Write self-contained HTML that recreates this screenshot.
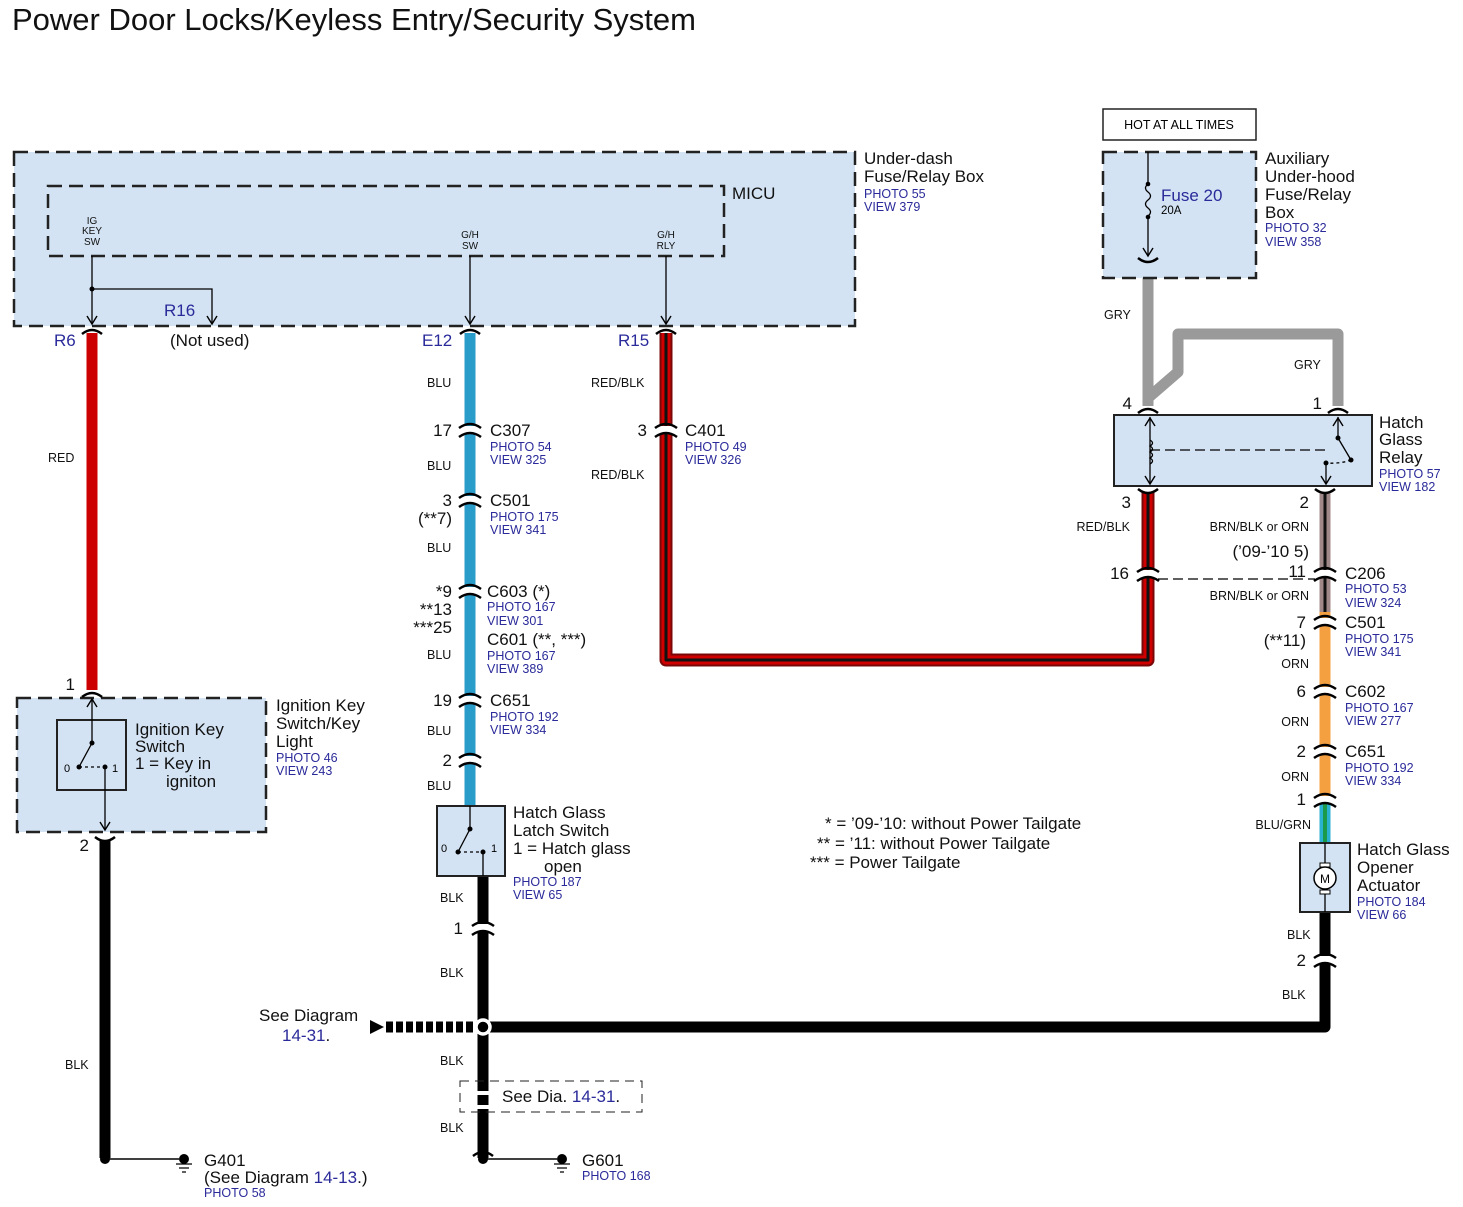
<!DOCTYPE html>
<html><head><meta charset="utf-8"><style>
html,body{margin:0;padding:0;background:#fff}
svg{display:block}
text{font-family:"Liberation Sans",Arial,sans-serif}
.n{font-size:17px;fill:#111}
.p{font-size:12.5px;fill:#2a2a9a}
.w{font-size:12.5px;fill:#111}
.s{font-size:10px;fill:#111}
.b{font-size:17px;fill:#2a2a9a}
</style></head><body>
<svg width="1463" height="1207" viewBox="0 0 1463 1207" xmlns="http://www.w3.org/2000/svg">
<defs>
<g id="k"><rect x="-9" y="-4" width="18" height="8" fill="#fff"/><path d="M-11,-2 Q0,-10 11,-2 M-11,7 Q0,-1 11,7" stroke="#000" stroke-width="2.5" fill="none"/></g>
<path id="t" d="M-10,4 Q0,-4 10,4" stroke="#000" stroke-width="2.5" fill="none"/>
<path id="u" d="M-10,-4 Q0,4 10,-4" stroke="#000" stroke-width="2.5" fill="none"/>
<path id="ad" d="M-5,-8 L0,0 L5,-8" fill="none" stroke="#000" stroke-width="1.4"/>
<path id="au" d="M-5,8 L0,0 L5,8" fill="none" stroke="#000" stroke-width="1.4"/>
</defs>

<text x="12" y="30" style="font-size:31px" fill="#111">Power Door Locks/Keyless Entry/Security System</text>

<!-- Under-dash box -->
<rect x="14" y="152" width="841" height="174" fill="#d3e3f3" stroke="#222" stroke-width="2.5" stroke-dasharray="14,7"/>
<rect x="48" y="186" width="676" height="70" fill="none" stroke="#222" stroke-width="2.5" stroke-dasharray="14,7"/>
<text x="732" y="199" class="n">MICU</text>
<text x="864" y="164" class="n">Under-dash</text>
<text x="864" y="182" class="n">Fuse/Relay Box</text>
<text x="864" y="198" class="p">PHOTO 55</text>
<text x="864" y="211" class="p">VIEW 379</text>
<text x="92" y="224" class="s" text-anchor="middle">IG</text>
<text x="92" y="234" class="s" text-anchor="middle">KEY</text>
<text x="92" y="245" class="s" text-anchor="middle">SW</text>
<text x="470" y="238" class="s" text-anchor="middle">G/H</text>
<text x="470" y="249" class="s" text-anchor="middle">SW</text>
<text x="666" y="238" class="s" text-anchor="middle">G/H</text>
<text x="666" y="249" class="s" text-anchor="middle">RLY</text>
<g stroke="#000" stroke-width="1.3" fill="none">
<path d="M92,256 V324"/>
<path d="M92,289 H212 V324"/>
<path d="M470,256 V324"/>
<path d="M666,256 V324"/>
</g>
<use href="#ad" x="92" y="324"/><use href="#ad" x="212" y="324"/><use href="#ad" x="470" y="324"/><use href="#ad" x="666" y="324"/>
<circle cx="92" cy="289" r="2.5"/>
<text x="164" y="316" class="b">R16</text>
<text x="54" y="346" class="b">R6</text>
<text x="170" y="346" class="n">(Not used)</text>
<text x="422" y="346" class="b">E12</text>
<text x="618" y="346" class="b">R15</text>

<!-- wires -->
<path d="M92,333 V690" stroke="#cc0000" stroke-width="11" fill="none"/>
<path d="M470,333 V806" stroke="#2a9cc9" stroke-width="11" fill="none"/>
<path d="M666,333 V660 H1148 V492" stroke="#7a0808" stroke-width="13" fill="none" stroke-linejoin="round"/>
<path d="M666,333 V660 H1148 V492" stroke="#d00000" stroke-width="9" fill="none" stroke-linejoin="round"/>
<path d="M666,333 V660 H1148 V492" stroke="#111" stroke-width="3" fill="none" stroke-linejoin="round"/>
<path d="M1148,262 V406" stroke="#9a9a9a" stroke-width="11" fill="none"/>
<path d="M1148,398 L1178,372 V334 H1338 V406" stroke="#9a9a9a" stroke-width="11" fill="none" stroke-linejoin="round"/>
<path d="M1325,492 V612" stroke="#a08888" stroke-width="11" fill="none"/>
<path d="M1325,492 V612" stroke="#111" stroke-width="3" fill="none"/>
<path d="M1325,612 V800" stroke="#f5a040" stroke-width="11" fill="none"/>
<path d="M1325,800 V843" stroke="#2ab0d0" stroke-width="11" fill="none"/>
<path d="M1325,800 V843" stroke="#1a9a4a" stroke-width="4" fill="none"/>
<path d="M105,840 V1158" stroke="#000" stroke-width="11" fill="none"/>
<path d="M483,876 V1158" stroke="#000" stroke-width="11" fill="none"/>
<path d="M1325,912 V1027 H483" stroke="#000" stroke-width="11" fill="none" stroke-linejoin="round"/>
<path d="M386,1027 H478" stroke="#000" stroke-width="11" stroke-dasharray="7,3" fill="none"/>
<path d="M370,1020 L384,1027 L370,1034 Z" fill="#000"/>
<circle cx="483" cy="1027" r="7" fill="#000" stroke="#fff" stroke-width="3.5"/>

<!-- top caps -->
<use href="#t" x="92" y="330"/><use href="#t" x="470" y="330"/><use href="#t" x="666" y="330"/>

<!-- wire labels left -->
<text x="48" y="462" class="w">RED</text>
<text x="427" y="387" class="w">BLU</text>
<text x="591" y="387" class="w">RED/BLK</text>
<text x="591" y="479" class="w">RED/BLK</text>
<text x="427" y="470" class="w">BLU</text>
<text x="427" y="552" class="w">BLU</text>
<text x="427" y="659" class="w">BLU</text>
<text x="427" y="735" class="w">BLU</text>
<text x="427" y="790" class="w">BLU</text>

<!-- E12 connectors -->
<use href="#k" x="470" y="430"/>
<text x="452" y="436" class="n" text-anchor="end">17</text>
<text x="490" y="436" class="n">C307</text>
<text x="490" y="451" class="p">PHOTO 54</text>
<text x="490" y="464" class="p">VIEW 325</text>
<use href="#k" x="470" y="500"/>
<text x="452" y="506" class="n" text-anchor="end">3</text>
<text x="452" y="524" class="n" text-anchor="end">(**7)</text>
<text x="490" y="506" class="n">C501</text>
<text x="490" y="521" class="p">PHOTO 175</text>
<text x="490" y="534" class="p">VIEW 341</text>
<use href="#k" x="470" y="591"/>
<text x="452" y="597" class="n" text-anchor="end">*9</text>
<text x="452" y="615" class="n" text-anchor="end">**13</text>
<text x="452" y="633" class="n" text-anchor="end">***25</text>
<text x="487" y="597" class="n">C603 (*)</text>
<text x="487" y="611" class="p">PHOTO 167</text>
<text x="487" y="625" class="p">VIEW 301</text>
<text x="487" y="645" class="n">C601 (**, ***)</text>
<text x="487" y="660" class="p">PHOTO 167</text>
<text x="487" y="673" class="p">VIEW 389</text>
<use href="#k" x="470" y="700"/>
<text x="452" y="706" class="n" text-anchor="end">19</text>
<text x="490" y="706" class="n">C651</text>
<text x="490" y="721" class="p">PHOTO 192</text>
<text x="490" y="734" class="p">VIEW 334</text>
<use href="#k" x="470" y="760"/>
<text x="452" y="766" class="n" text-anchor="end">2</text>

<use href="#k" x="666" y="430"/>
<text x="647" y="436" class="n" text-anchor="end">3</text>
<text x="685" y="436" class="n">C401</text>
<text x="685" y="451" class="p">PHOTO 49</text>
<text x="685" y="464" class="p">VIEW 326</text>

<!-- Ignition key switch -->
<rect x="17" y="698" width="249" height="134" fill="#d3e3f3" stroke="#222" stroke-width="2.5" stroke-dasharray="14,7"/>
<rect x="57" y="720" width="69" height="70" fill="none" stroke="#222" stroke-width="2"/>
<use href="#t" x="92" y="693"/>
<text x="75" y="690" class="n" text-anchor="end">1</text>
<g stroke="#000" stroke-width="1.3" fill="none">
<path d="M92,743 V699"/>
<path d="M92,743 L79,767"/>
<path d="M79,767 H104" stroke-dasharray="3,3"/>
<path d="M105,767 V830"/>
</g>
<use href="#au" x="92" y="699"/><use href="#ad" x="105" y="830"/>
<circle cx="92" cy="743" r="2.5"/><circle cx="79" cy="767" r="2.5"/><circle cx="105" cy="767" r="2.5"/>
<text x="64" y="772" style="font-size:11px">0</text>
<text x="112" y="772" style="font-size:11px">1</text>
<text x="135" y="735" class="n">Ignition Key</text>
<text x="135" y="752" class="n">Switch</text>
<text x="135" y="769" class="n">1 = Key in</text>
<text x="166" y="787" class="n">igniton</text>
<text x="276" y="711" class="n">Ignition Key</text>
<text x="276" y="729" class="n">Switch/Key</text>
<text x="276" y="747" class="n">Light</text>
<text x="276" y="762" class="p">PHOTO 46</text>
<text x="276" y="775" class="p">VIEW 243</text>
<use href="#u" x="105" y="841"/>
<text x="89" y="851" class="n" text-anchor="end">2</text>
<text x="65" y="1069" class="w">BLK</text>

<!-- Hatch glass latch switch -->
<rect x="437" y="806" width="68" height="70" fill="#d3e3f3" stroke="#222" stroke-width="2"/>
<g stroke="#000" stroke-width="1.3" fill="none">
<path d="M470,806 V829 L458,852"/>
<path d="M458,852 H482" stroke-dasharray="3,3"/>
<path d="M483,852 V876"/>
</g>
<circle cx="470" cy="829" r="2.5"/><circle cx="458" cy="852" r="2.5"/><circle cx="483" cy="852" r="2.5"/>
<text x="441" y="852" style="font-size:11px">0</text>
<text x="491" y="852" style="font-size:11px">1</text>
<text x="513" y="818" class="n">Hatch Glass</text>
<text x="513" y="836" class="n">Latch Switch</text>
<text x="513" y="854" class="n">1 = Hatch glass</text>
<text x="544" y="872" class="n">open</text>
<text x="513" y="886" class="p">PHOTO 187</text>
<text x="513" y="899" class="p">VIEW 65</text>
<text x="440" y="902" class="w">BLK</text>
<use href="#k" x="483" y="928"/>
<text x="463" y="934" class="n" text-anchor="end">1</text>
<text x="440" y="977" class="w">BLK</text>
<text x="440" y="1065" class="w">BLK</text>
<text x="440" y="1132" class="w">BLK</text>
<rect x="460" y="1081" width="182" height="31" fill="none" stroke="#222" stroke-width="1" stroke-dasharray="9,6"/>
<rect x="476" y="1091" width="14" height="4" fill="#fff"/>
<rect x="476" y="1105" width="14" height="4" fill="#fff"/>
<text x="502" y="1102" class="n">See Dia.<tspan fill="#2a2a9a"> 14-31</tspan>.</text>
<text x="259" y="1021" class="n">See Diagram</text>
<text x="282" y="1041" class="n"><tspan fill="#2a2a9a">14-31</tspan>.</text>

<!-- grounds -->
<use href="#t" x="483" y="1152"/>
<circle cx="483" cy="1159" r="5"/>
<path d="M483,1159 H557" stroke="#000" stroke-width="1.5"/>
<circle cx="562" cy="1159" r="5"/>
<path d="M554,1164 H570 M557,1168 H567 M560,1172 H564" stroke="#000" stroke-width="1.3"/>
<text x="582" y="1166" class="n">G601</text>
<text x="582" y="1180" class="p">PHOTO 168</text>
<circle cx="105" cy="1159" r="5"/>
<path d="M105,1159 H179" stroke="#000" stroke-width="1.5"/>
<circle cx="184" cy="1159" r="5"/>
<path d="M176,1164 H192 M179,1168 H189 M182,1172 H186" stroke="#000" stroke-width="1.3"/>
<text x="204" y="1166" class="n">G401</text>
<text x="204" y="1183" class="n">(See Diagram <tspan fill="#2a2a9a">14-13</tspan>.)</text>
<text x="204" y="1197" class="p">PHOTO 58</text>

<!-- notes -->
<text x="825" y="829" class="n">* = ’09-’10: without Power Tailgate</text>
<text x="817" y="849" class="n">** = ’11: without Power Tailgate</text>
<text x="810" y="868" class="n">*** = Power Tailgate</text>

<!-- right side -->
<rect x="1103" y="109" width="153" height="31" fill="#fff" stroke="#222" stroke-width="1.5"/>
<text x="1179" y="129" text-anchor="middle" style="font-size:12.5px">HOT AT ALL TIMES</text>
<rect x="1103" y="152" width="153" height="126" fill="#d3e3f3" stroke="#222" stroke-width="2.5" stroke-dasharray="14,7"/>
<g stroke="#000" stroke-width="1.3" fill="none">
<path d="M1148,152 V184"/>
<path d="M1148,184 q-5,4 0,8 q5,4 0,8 q-5,4 0,8 q5,4 0,8"/>
<path d="M1148,217 V256"/>
</g>
<use href="#ad" x="1148" y="256"/>
<circle cx="1148" cy="184" r="2.3"/><circle cx="1148" cy="217" r="2.3"/>
<use href="#u" x="1148" y="262"/>
<text x="1161" y="201" class="b">Fuse 20</text>
<text x="1161" y="214" style="font-size:11.5px">20A</text>
<text x="1265" y="164" class="n">Auxiliary</text>
<text x="1265" y="182" class="n">Under-hood</text>
<text x="1265" y="200" class="n">Fuse/Relay</text>
<text x="1265" y="218" class="n">Box</text>
<text x="1265" y="232" class="p">PHOTO 32</text>
<text x="1265" y="246" class="p">VIEW 358</text>
<text x="1104" y="319" class="w">GRY</text>
<text x="1294" y="369" class="w">GRY</text>
<use href="#t" x="1148" y="409"/><use href="#t" x="1338" y="409"/>
<text x="1132" y="409" class="n" text-anchor="end">4</text>
<text x="1322" y="409" class="n" text-anchor="end">1</text>
<rect x="1114" y="415" width="258" height="71" fill="#d3e3f3" stroke="#222" stroke-width="2"/>
<g stroke="#000" stroke-width="1.3" fill="none">
<path d="M1150,417 V484"/>
<path d="M1150,440 q5,3 0,6 q5,3 0,6 q5,3 0,6 q5,3 0,6"/>
<path d="M1150,450 H1328" stroke-dasharray="10,5"/>
<path d="M1338,438 V417"/>
<path d="M1338,438 L1351,460"/>
<path d="M1351,460 Q1340,464 1326,463" stroke-dasharray="3,3"/>
<path d="M1326,463 V484"/>
</g>
<use href="#au" x="1150" y="418"/><use href="#ad" x="1150" y="484"/>
<use href="#au" x="1338" y="418"/><use href="#ad" x="1326" y="484"/>
<circle cx="1338" cy="438" r="2.5"/><circle cx="1351" cy="460" r="2.5"/><circle cx="1326" cy="463" r="2.5"/>
<text x="1379" y="428" class="n">Hatch</text>
<text x="1379" y="445" class="n">Glass</text>
<text x="1379" y="463" class="n">Relay</text>
<text x="1379" y="478" class="p">PHOTO 57</text>
<text x="1379" y="491" class="p">VIEW 182</text>
<use href="#u" x="1148" y="493"/><use href="#u" x="1325" y="493"/>
<text x="1131" y="508" class="n" text-anchor="end">3</text>
<text x="1309" y="508" class="n" text-anchor="end">2</text>
<text x="1130" y="531" class="w" text-anchor="end">RED/BLK</text>
<text x="1309" y="531" class="w" text-anchor="end">BRN/BLK or ORN</text>
<text x="1309" y="557" class="n" text-anchor="end">(’09-’10 5)</text>
<use href="#k" x="1148" y="574"/>
<use href="#k" x="1325" y="574"/>
<path d="M1158,579 H1315" stroke="#000" stroke-width="1.3" stroke-dasharray="10,5"/>
<text x="1129" y="579" class="n" text-anchor="end">16</text>
<text x="1306" y="577" class="n" text-anchor="end">11</text>
<text x="1345" y="579" class="n">C206</text>
<text x="1345" y="593" class="p">PHOTO 53</text>
<text x="1345" y="607" class="p">VIEW 324</text>
<text x="1309" y="600" class="w" text-anchor="end">BRN/BLK or ORN</text>
<use href="#k" x="1325" y="622"/>
<text x="1306" y="628" class="n" text-anchor="end">7</text>
<text x="1306" y="646" class="n" text-anchor="end">(**11)</text>
<text x="1345" y="628" class="n">C501</text>
<text x="1345" y="643" class="p">PHOTO 175</text>
<text x="1345" y="656" class="p">VIEW 341</text>
<text x="1309" y="668" class="w" text-anchor="end">ORN</text>
<use href="#k" x="1325" y="691"/>
<text x="1306" y="697" class="n" text-anchor="end">6</text>
<text x="1345" y="697" class="n">C602</text>
<text x="1345" y="712" class="p">PHOTO 167</text>
<text x="1345" y="725" class="p">VIEW 277</text>
<text x="1309" y="726" class="w" text-anchor="end">ORN</text>
<use href="#k" x="1325" y="751"/>
<text x="1306" y="757" class="n" text-anchor="end">2</text>
<text x="1345" y="757" class="n">C651</text>
<text x="1345" y="772" class="p">PHOTO 192</text>
<text x="1345" y="785" class="p">VIEW 334</text>
<text x="1309" y="781" class="w" text-anchor="end">ORN</text>
<use href="#k" x="1325" y="800"/>
<text x="1306" y="805" class="n" text-anchor="end">1</text>
<text x="1311" y="829" class="w" text-anchor="end">BLU/GRN</text>
<rect x="1300" y="843" width="50" height="69" fill="#d3e3f3" stroke="#222" stroke-width="2"/>
<path d="M1325,843 V912" stroke="#000" stroke-width="1.3"/>
<rect x="1320" y="863" width="10" height="4" fill="#fff" stroke="#000" stroke-width="1"/>
<rect x="1320" y="890" width="10" height="4" fill="#fff" stroke="#000" stroke-width="1"/>
<circle cx="1325" cy="878" r="11" fill="#fff" stroke="#000" stroke-width="1.5"/>
<text x="1325" y="883" text-anchor="middle" style="font-size:12px">M</text>
<text x="1357" y="855" class="n">Hatch Glass</text>
<text x="1357" y="873" class="n">Opener</text>
<text x="1357" y="891" class="n">Actuator</text>
<text x="1357" y="906" class="p">PHOTO 184</text>
<text x="1357" y="919" class="p">VIEW 66</text>
<text x="1287" y="939" class="w">BLK</text>
<use href="#k" x="1325" y="960"/>
<text x="1306" y="966" class="n" text-anchor="end">2</text>
<text x="1282" y="999" class="w">BLK</text>
</svg>
</body></html>
